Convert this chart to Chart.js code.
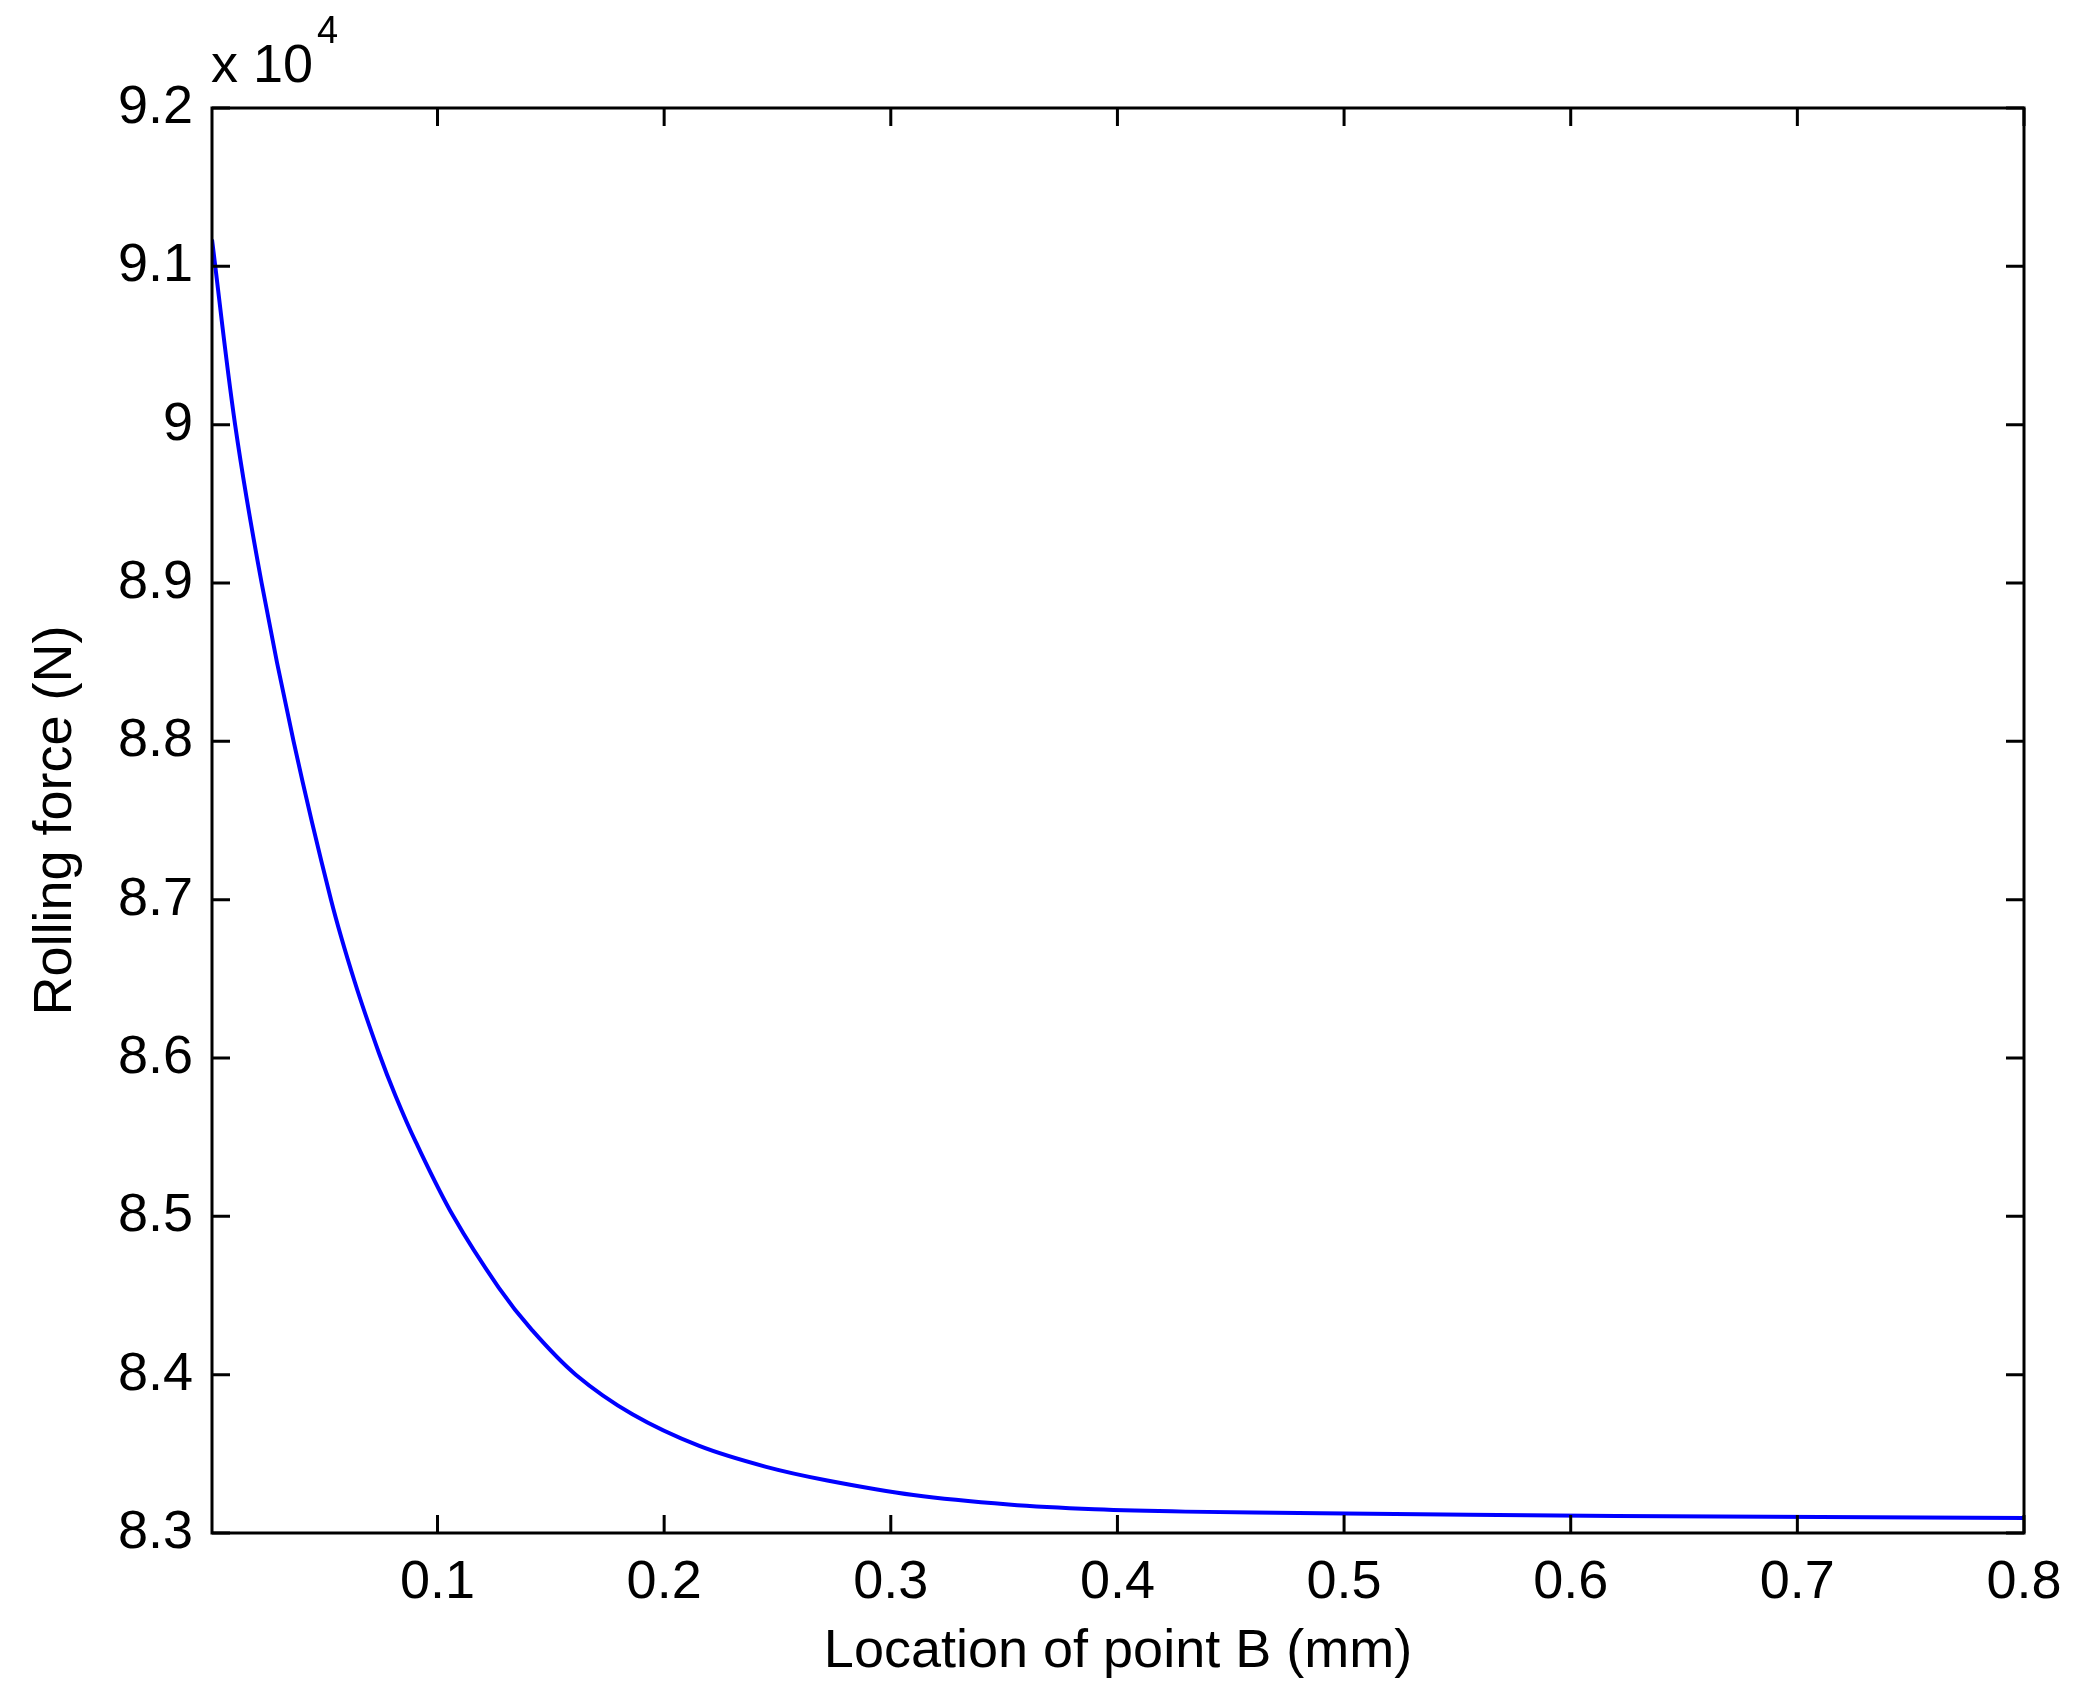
<!DOCTYPE html>
<html>
<head>
<meta charset="utf-8">
<script src="https://cdn.jsdelivr.net/npm/chart.js@4.4.0/dist/chart.umd.min.js"></script>
<style>
  html, body { margin: 0; padding: 0; background: #fff; }
  #wrap { width: 2081px; height: 1700px; }
</style>
</head>
<body>
<div id="wrap"><canvas id="chart"></canvas></div>
<script>
// Rolling force vs location of point B
// values

// x: location of point B (mm)
const locationB = [0.0005, 0.0107, 0.0224, 0.0365, 0.053, 0.0635, 0.0742, 0.0815, 0.0904, 0.107,
  0.127, 0.1418, 0.161, 0.186, 0.2155, 0.245, 0.272, 0.31, 0.352, 0.39,
  0.43, 0.49, 0.62, 0.8];

// y: rolling force (N)
const rollingForce = [91170, 90000, 89000, 88000, 87000, 86480, 86030, 85760, 85470, 85000,
  84550, 84280, 84000, 83750, 83550, 83418, 83332, 83240, 83180, 83150,
  83135, 83125, 83107, 83095];

const xTickValues = [0.1, 0.2, 0.3, 0.4, 0.5, 0.6, 0.7, 0.8];
const yTickValues = [83000, 84000, 85000, 86000, 87000, 88000, 89000, 90000, 91000, 92000];

const FONT = 'Liberation Sans';
const TICK_LEN = 18;

// draws the black box, inward ticks on all four sides, and the "x 10^4" note
const matlabFrame = {
  id: 'matlabFrame',
  afterDraw(chart) {
    const ctx = chart.ctx;
    const area = chart.chartArea;
    const xs = chart.scales.x;
    const ys = chart.scales.y;
    ctx.save();
    ctx.strokeStyle = '#000';
    ctx.lineWidth = 3;
    ctx.strokeRect(area.left, area.top, area.right - area.left, area.bottom - area.top);
    ctx.beginPath();
    xTickValues.forEach(v => {
      const px = xs.getPixelForValue(v);
      ctx.moveTo(px, area.bottom); ctx.lineTo(px, area.bottom - TICK_LEN);
      ctx.moveTo(px, area.top); ctx.lineTo(px, area.top + TICK_LEN);
    });
    yTickValues.forEach(v => {
      const py = ys.getPixelForValue(v);
      ctx.moveTo(area.left, py); ctx.lineTo(area.left + TICK_LEN, py);
      ctx.moveTo(area.right, py); ctx.lineTo(area.right - TICK_LEN, py);
    });
    ctx.stroke();

    // exponent label above the y axis
    ctx.fillStyle = '#000';
    ctx.textBaseline = 'alphabetic';
    ctx.textAlign = 'left';
    ctx.font = '54px "' + FONT + '"';
    const base = 'x 10';
    ctx.fillText(base, area.left - 1, 82);
    const w = ctx.measureText(base).width;
    ctx.font = '38px "' + FONT + '"';
    ctx.fillText('4', area.left - 1 + w + 4, 43);
    ctx.restore();
  }
};

new Chart(document.getElementById('chart'), {
  type: 'line',
  data: {
    datasets: [{
      data: locationB.map((x, i) => ({ x: x, y: rollingForce[i] })),
      borderColor: '#0000ff',
      borderWidth: 4,
      pointRadius: 0,
      fill: false,
      tension: 0.35
    }]
  },
  options: {
    responsive: true,
    maintainAspectRatio: false,
    animation: false,
    events: [],
    layout: { padding: { left: 0, top: 108, right: 57, bottom: 0 } },
    plugins: {
      legend: { display: false },
      tooltip: { enabled: false }
    },
    scales: {
      x: {
        type: 'linear',
        min: locationB[0],
        max: 0.8,
        grid: { display: false, drawTicks: false },
        border: { display: false },
        afterBuildTicks: s => { s.ticks = xTickValues.map(v => ({ value: v })); },
        afterFit: s => { s.height = 167; },
        ticks: {
          color: '#000',
          padding: 18,
          maxRotation: 0,
          font: { family: FONT, size: 54 },
          callback: v => String(Math.round(v * 10) / 10)
        },
        title: {
          display: true,
          text: 'Location of point B (mm)',
          color: '#000',
          font: { family: FONT, size: 54 },
          padding: { top: 0, bottom: 15 }
        }
      },
      y: {
        type: 'linear',
        min: 83000,
        max: 92000,
        grid: { display: false, drawTicks: false },
        border: { display: false },
        afterBuildTicks: s => { s.ticks = yTickValues.map(v => ({ value: v })); },
        afterFit: s => { s.width = 212; },
        ticks: {
          color: '#000',
          padding: 19,
          font: { family: FONT, size: 54 },
          callback: v => String(Math.round(v / 1000) / 10)
        },
        title: {
          display: true,
          text: 'Rolling force (N)',
          color: '#000',
          font: { family: FONT, size: 54 },
          padding: { top: 24, bottom: 0 }
        }
      }
    }
  },
  plugins: [matlabFrame]
});
</script>
</body>
</html>
